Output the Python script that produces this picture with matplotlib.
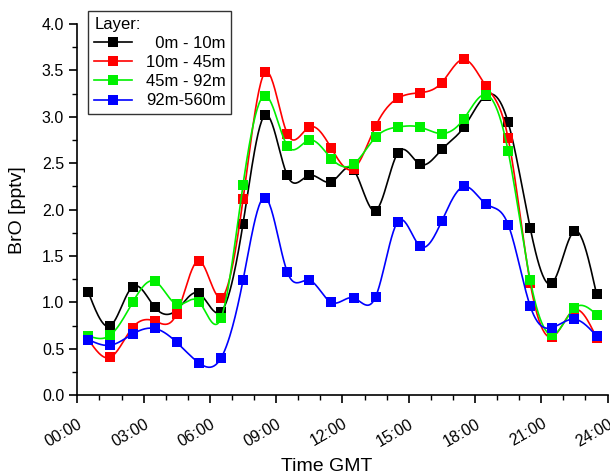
import matplotlib
matplotlib.use('Agg')
import matplotlib.pyplot as plt
import numpy as np

plt.rcParams['font.family'] = ['Liberation Sans', 'DejaVu Sans']

# hour of day (GMT) of each measurement
hours = np.arange(0.5, 24, 1.0)

bro_0_10 = [1.11, 0.75, 1.17, 0.95, 0.92, 1.10, 0.90, 1.85, 3.02, 2.37, 2.37, 2.30,
            2.43, 1.99, 2.61, 2.49, 2.65, 2.89, 3.23, 2.94, 1.80, 1.21, 1.77, 1.09]
bro_10_45 = [0.60, 0.41, 0.73, 0.80, 0.88, 1.45, 1.05, 2.11, 3.48, 2.82, 2.89, 2.66,
             2.44, 2.90, 3.20, 3.26, 3.37, 3.62, 3.33, 2.77, 1.21, 0.63, 0.92, 0.62]
bro_45_92 = [0.64, 0.65, 1.00, 1.23, 0.98, 1.01, 0.83, 2.27, 3.23, 2.69, 2.75, 2.55,
             2.49, 2.78, 2.89, 2.89, 2.82, 2.98, 3.24, 2.63, 1.24, 0.65, 0.94, 0.87]
bro_92_560 = [0.60, 0.54, 0.66, 0.72, 0.57, 0.35, 0.40, 1.24, 2.13, 1.33, 1.24, 1.00,
              1.05, 1.06, 1.87, 1.61, 1.88, 2.25, 2.06, 1.84, 0.96, 0.73, 0.82, 0.64]

layers = ['  0m - 10m', '10m - 45m', '45m - 92m', '92m-560m']
colors = ['black', '#ff0000', '#00f000', '#0000ff']
tick_labels = ['00:00', '03:00', '06:00', '09:00', '12:00', '15:00', '18:00', '21:00', '24:00']


def natural_spline(x, y, n=25):
    # smooth connecting curve through the points (natural cubic spline)
    x = np.asarray(x, float)
    y = np.asarray(y, float)
    k = len(x)
    h = np.diff(x)
    A = np.zeros((k, k))
    r = np.zeros(k)
    A[0, 0] = A[-1, -1] = 1
    for i in range(1, k - 1):
        A[i, i - 1] = h[i - 1]
        A[i, i] = 2 * (h[i - 1] + h[i])
        A[i, i + 1] = h[i]
        r[i] = 6 * ((y[i + 1] - y[i]) / h[i] - (y[i] - y[i - 1]) / h[i - 1])
    M = np.linalg.solve(A, r)
    xs, ys = [], []
    for i in range(k - 1):
        t = np.linspace(x[i], x[i + 1], n, endpoint=(i == k - 2))
        a = x[i + 1] - t
        b = t - x[i]
        s = (M[i] * a**3 + M[i + 1] * b**3) / (6 * h[i]) \
            + (y[i] / h[i] - M[i] * h[i] / 6) * a \
            + (y[i + 1] / h[i] - M[i + 1] * h[i] / 6) * b
        xs.append(t)
        ys.append(s)
    return np.concatenate(xs), np.concatenate(ys)


fig = plt.figure(figsize=(6.1, 4.76), dpi=100)
ax = fig.add_axes([0.1268, 0.1695, 0.8692, 0.78])

for vals, name, c in zip([bro_0_10, bro_10_45, bro_45_92, bro_92_560], layers, colors):
    sx, sy = natural_spline(hours, vals)
    ax.plot(sx, sy, color=c, lw=1.2)
    ax.plot(hours, vals, 's', color=c, ms=7, mew=0)
    ax.plot([], [], '-s', color=c, lw=1.2, ms=7, mew=0, label=name)

ax.set_xlim(0, 24)
ax.set_ylim(0, 4)
ax.set_xticks(np.arange(0, 25, 3))
ax.set_xticks(np.arange(0, 25, 1), minor=True)
ax.set_xticklabels(tick_labels, rotation=30, ha='right', rotation_mode='anchor')
ax.set_yticks(np.arange(0, 4.01, 0.5))
ax.set_yticks(np.arange(0, 4.01, 0.25), minor=True)
ax.set_yticklabels([f'{v:.1f}' for v in np.arange(0, 4.01, 0.5)])

for s in ['top', 'right']:
    ax.spines[s].set_visible(False)
for s in ['left', 'bottom']:
    ax.spines[s].set_linewidth(1.2)
ax.tick_params(which='major', direction='out', length=6, width=1.2, labelsize=11.5)
ax.tick_params(which='minor', direction='out', length=3.6, width=1.0)
ax.tick_params(axis='x', which='major', pad=9)

ax.set_xlabel('Time GMT', fontsize=14)
ax.set_ylabel('BrO [pptv]', fontsize=14)
ax.xaxis.set_label_coords(0.47, -0.17)
ax.yaxis.set_label_coords(-0.097, 0.5)

leg = ax.legend(title='Layer:', loc='upper left', bbox_to_anchor=(0.005, 1.058),
                fontsize=12, title_fontsize=12, frameon=True, fancybox=False,
                edgecolor='black', handlelength=2.3, borderpad=0.35,
                labelspacing=0.25, handletextpad=0.8, alignment='left')
leg.get_frame().set_linewidth(1.0)

fig.savefig('out.png', dpi=100)
